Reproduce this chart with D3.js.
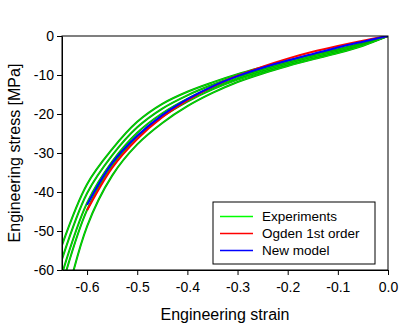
<!DOCTYPE html>
<html>
<head>
<meta charset="utf-8">
<script src="https://cdn.jsdelivr.net/npm/d3@7/dist/d3.min.js"></script>
<style>
  body { margin: 0; background: #fff; }
  text { font-family: "Liberation Sans", Arial, sans-serif; }
</style>
</head>
<body>
<div class="chart"></div>
<script>
// strain steps shared by all curves
var strain = [0, -0.05, -0.1, -0.15, -0.2, -0.25, -0.3, -0.35, -0.4, -0.45, -0.5, -0.55, -0.6, -0.65];

var expA = [0, -1.8, -3.4, -4.8, -6.3, -8.0, -9.8, -11.9, -14.3, -17.4, -22.0, -29.0, -38.0, -53.6];
var expB = [0, -2.0, -3.6, -5.0, -6.6, -8.4, -10.3, -12.5, -15.2, -18.6, -23.4, -30.6, -40.3, -57.2];
var expC = [0, -2.1, -3.8, -5.3, -7.0, -8.8, -10.8, -13.2, -16.1, -19.8, -24.8, -32.2, -42.8, -61.0];
var expD = [0, -2.3, -4.1, -5.6, -7.3, -9.2, -11.2, -13.7, -16.8, -20.7, -25.8, -33.3, -44.6, -64.0];
var expE = [0, -2.5, -4.4, -6.0, -7.7, -9.6, -11.8, -14.6, -18.0, -22.3, -27.8, -35.8, -48.8, -72.0];

// model curves end at -0.6
var ogden = [0, -1.2, -2.55, -4.05, -5.8, -7.85, -10.2, -13.0, -16.5, -20.8, -26.4, -33.8, -44.7];
var newModel = [0, -1.45, -2.95, -4.6, -6.3, -8.15, -10.3, -12.9, -16.2, -20.3, -25.6, -32.6, -43.3];

var xTicks = [-0.6, -0.5, -0.4, -0.3, -0.2, -0.1, 0.0];
var yTicks = [0, -10, -20, -30, -40, -50, -60];
var legendNames = ["Experiments", "Ogden 1st order", "New model"];
var legendColors = ["#00ff00", "#ff0000", "#0000ff"];

var svgWidth = 407;
var svgHeight = 327;
var margin = { top: 36, right: 19, bottom: 57, left: 62 };
var width = svgWidth - margin.left - margin.right;
var height = svgHeight - margin.top - margin.bottom;

var svg = d3.select(".chart")
  .append("svg")
  .attr("width", svgWidth)
  .attr("height", svgHeight);

var chart = svg.append("g")
  .attr("transform", "translate(" + margin.left + "," + margin.top + ")");

var x = d3.scaleLinear().domain([-0.65, 0]).range([0, width]);
var y = d3.scaleLinear().domain([-60, 0]).range([height, 0]);

chart.append("clipPath").attr("id", "plotclip")
  .append("rect").attr("width", width).attr("height", height);

var line = d3.line()
  .x(function(d) { return x(d[0]); })
  .y(function(d) { return y(d[1]); })
  .curve(d3.curveCatmullRom.alpha(0.5));

function pairs(vals) {
  return vals.map(function(v, i) { return [strain[i], v]; });
}

var curves = chart.append("g").attr("clip-path", "url(#plotclip)");

[expA, expB, expC, expD, expE].forEach(function(s) {
  curves.append("path").datum(pairs(s))
    .attr("d", line).attr("fill", "none")
    .attr("stroke", "#00a000").attr("stroke-width", 2);
  curves.append("path").datum(pairs(s))
    .attr("d", line).attr("fill", "none")
    .attr("stroke", "#00ff00").attr("stroke-width", 0.7);
});

curves.append("path").datum(pairs(ogden))
  .attr("d", line).attr("fill", "none")
  .attr("stroke", "#ff0000").attr("stroke-width", 2);

curves.append("path").datum(pairs(newModel))
  .attr("d", line).attr("fill", "none")
  .attr("stroke", "#0000ff").attr("stroke-width", 2);

// frame
chart.append("rect")
  .attr("width", width).attr("height", height)
  .attr("fill", "none").attr("stroke", "#000").attr("stroke-width", 1);

var bottomAxis = d3.axisBottom(x).tickValues(xTicks)
  .tickSizeInner(5).tickSizeOuter(0).tickPadding(7);
var leftAxis = d3.axisLeft(y).tickValues(yTicks)
  .tickSizeInner(5).tickSizeOuter(0).tickPadding(3);

var gx = chart.append("g").attr("transform", "translate(0," + height + ")").call(bottomAxis);
var gy = chart.append("g").call(leftAxis);

[gx, gy].forEach(function(g) {
  g.select(".domain").attr("stroke", "#000");
  g.selectAll("line").attr("stroke", "#000");
  g.selectAll("text").attr("font-size", 14).attr("fill", "#000")
    .attr("font-family", "'Liberation Sans', Arial, sans-serif");
});
gx.selectAll("text").text(function(d) { return d.toFixed(1); });
gy.selectAll("text").text(function(d) { return String(d); });

// axis titles
svg.append("text")
  .attr("x", margin.left + width / 2)
  .attr("y", 320)
  .attr("text-anchor", "middle")
  .attr("font-size", 16)
  .text("Engineering strain");

svg.append("text")
  .attr("transform", "translate(20," + (margin.top + height / 2) + ") rotate(-90)")
  .attr("text-anchor", "middle")
  .attr("font-size", 16)
  .text("Engineering stress [MPa]");

// legend
var legend = svg.append("g").attr("transform", "translate(213,202)");
legend.append("rect")
  .attr("width", 162).attr("height", 62)
  .attr("fill", "#fff").attr("stroke", "#000").attr("stroke-width", 1);

legendNames.forEach(function(name, i) {
  var ly = 14.5 + i * 17;
  legend.append("line")
    .attr("x1", 7).attr("x2", 40).attr("y1", ly).attr("y2", ly)
    .attr("stroke", legendColors[i]).attr("stroke-width", 1.5);
  legend.append("text")
    .attr("x", 49).attr("y", ly).attr("dy", "0.35em")
    .attr("font-size", 13.5)
    .text(name);
});
</script>
</body>
</html>
